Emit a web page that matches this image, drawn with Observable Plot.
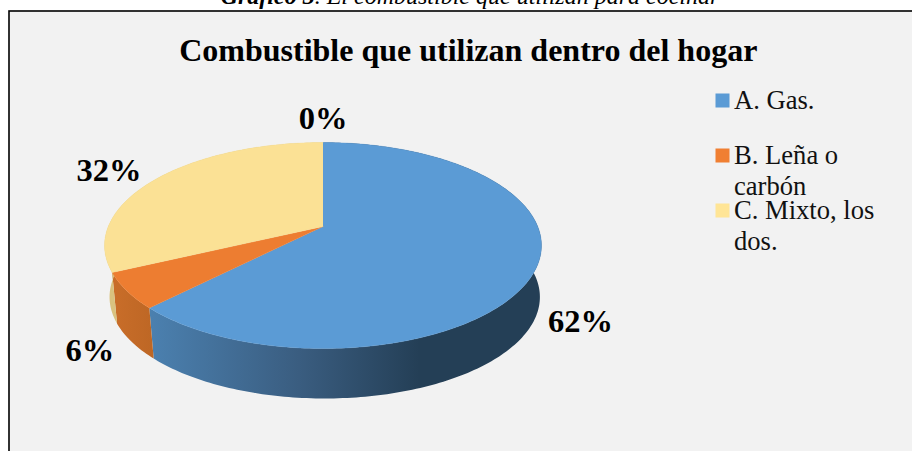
<!DOCTYPE html>
<html><head><meta charset="utf-8">
<script src="https://cdn.jsdelivr.net/npm/d3@7"></script>
<script src="https://cdn.jsdelivr.net/npm/@observablehq/plot@0.6"></script>
<style>
html,body{margin:0;padding:0;background:#fff;overflow:hidden;width:912px;height:451px}
#wrap{position:relative;width:912px;height:451px;overflow:hidden}
#cap{position:absolute;left:0;width:940px;top:-18px;text-align:center;font:italic 24px/28px "Liberation Serif",serif;color:#000;white-space:nowrap}
svg{display:block}
</style></head><body>
<div id="wrap"><div id="chart"></div><div id="cap"><b>Gráfico 3</b>. El combustible que utilizan para cocinar</div></div>
<script>
const categories = ["A. Gas.", "B. Leña o carbón", "C. Mixto, los dos.", ""];
const percents = [62.4, 5.6, 32, 0];
const topColors = ["#5b9bd5", "#ed7d31", "#fbe195", "#a5a5a5"];
const swatchColors = ["#5b9bd5", "#f07f32", "#ffe596"];
const wallColors = ["url(#gasWall)", "url(#lenaWall)", "#d9c27f", "#888888"];
const legendLines = ["A. Gas.", "B. Leña o\ncarbón", "C. Mixto, los\ndos."];
const title = "Combustible que utilizan dentro del hogar";

const serif = "'Liberation Serif', 'Times New Roman', serif";
const persp = 0.1845, depthScale = 0.985, depthShift = 0.5206, depthSkew = 0.008;
const rim = (deg, s = 1, shift = 0, skew = 0) => {
  const t = deg * Math.PI / 180, X = Math.sin(t), Y = Math.cos(t), w = 1 + persp * Y;
  return {x: s * X / w + skew, y: s * Y / w - shift};
};

let acc = 0;
const slices = percents.map((p, i) => {
  const a0 = acc * 3.6; acc += p; const a1 = acc * 3.6;
  const steps = d3.range(a0, a1, 1).concat(a1);
  return {i, p, a0, a1, mid: (a0 + a1) / 2, steps};
});
const active = slices.filter(s => s.p > 0);

const topPts = active.flatMap(s => [
  {k: s.i, x: 0, y: 0},
  ...s.steps.map(a => ({k: s.i, ...rim(a)}))
]);
const wallPts = active.flatMap(s => [
  ...s.steps.map(a => ({k: s.i, ...rim(a)})),
  ...s.steps.slice().reverse().map(a => ({k: s.i, ...rim(a, depthScale, depthShift, depthSkew)}))
]);

const defs = (index, {x}) => {
  const d = d3.create("svg:defs");
  const g = d.append("linearGradient").attr("id", "gasWall").attr("gradientUnits", "userSpaceOnUse")
    .attr("x1", x(-0.8)).attr("x2", x(0.45)).attr("y1", 0).attr("y2", 0);
  [[0, "#4b80af"], [0.55, "#3a5d80"], [1, "#243f56"]].forEach(([o, c]) => g.append("stop").attr("offset", o).attr("stop-color", c));
  const h = d.append("linearGradient").attr("id", "lenaWall").attr("gradientUnits", "userSpaceOnUse")
    .attr("x1", x(-1)).attr("x2", x(-0.8)).attr("y1", 0).attr("y2", 0);
  h.append("stop").attr("offset", 0).attr("stop-color", "#ca6e2a");
  h.append("stop").attr("offset", 1).attr("stop-color", "#be6725");
  return d.node();
};

const labelOffsets = [[44, 54], [-37, 60], [-49, -7], [0, -24]];

const chart = Plot.plot({
  width: 912, height: 451,
  marginLeft: 8.5, marginTop: 10.5, marginRight: 0, marginBottom: 0,
  x: {domain: [-1, 1], range: [107.8, 537.2], axis: null},
  y: {domain: [-1, 1], range: [325.5, 126.5], axis: null},
  style: {background: "#fff", fontFamily: serif},
  marks: [
    Plot.frame({fill: "#f2f2f2", stroke: "#000", strokeWidth: 1.6, insetRight: -6, insetBottom: -6}),
    defs,
    ...active.map(s => Plot.line(wallPts.filter(d => d.k === s.i), {x: "x", y: "y", fill: wallColors[s.i], stroke: "none", curve: "linear"})),
    ...active.map(s => Plot.line(topPts.filter(d => d.k === s.i), {x: "x", y: "y", fill: topColors[s.i], stroke: topColors[s.i], strokeWidth: 0.4, curve: "linear"})),
    ...slices.map(s => Plot.text([`${Math.round(s.p)}%`], {
      x: rim(s.mid).x, y: rim(s.mid).y, text: d => d,
      dx: labelOffsets[s.i][0], dy: labelOffsets[s.i][1],
      fontSize: 32.5, fontWeight: "bold", fontFamily: serif, fill: "#000", textAnchor: "middle", lineAnchor: "middle"
    })),
    Plot.text([title], {frameAnchor: "top", dx: 7.5, dy: 27, text: d => d, fontSize: 32, fontWeight: "bold", fontFamily: serif, fill: "#000", textAnchor: "middle", lineAnchor: "top"}),
    ...legendLines.flatMap((t, i) => [
      Plot.dot([t], {frameAnchor: "top-left", dx: 713.5, dy: 89.5 + i * 55, r: 7.9, symbol: "square", fill: swatchColors[i], stroke: "none"}),
      Plot.text([t], {frameAnchor: "top-left", dx: 725, dy: 76 + i * 55, text: d => d, fontSize: 26.6, lineHeight: 1.17, fontFamily: serif, fill: "#111", textAnchor: "start", lineAnchor: "top"})
    ])
  ]
});
document.getElementById("chart").append(chart);
</script>
</body></html>
